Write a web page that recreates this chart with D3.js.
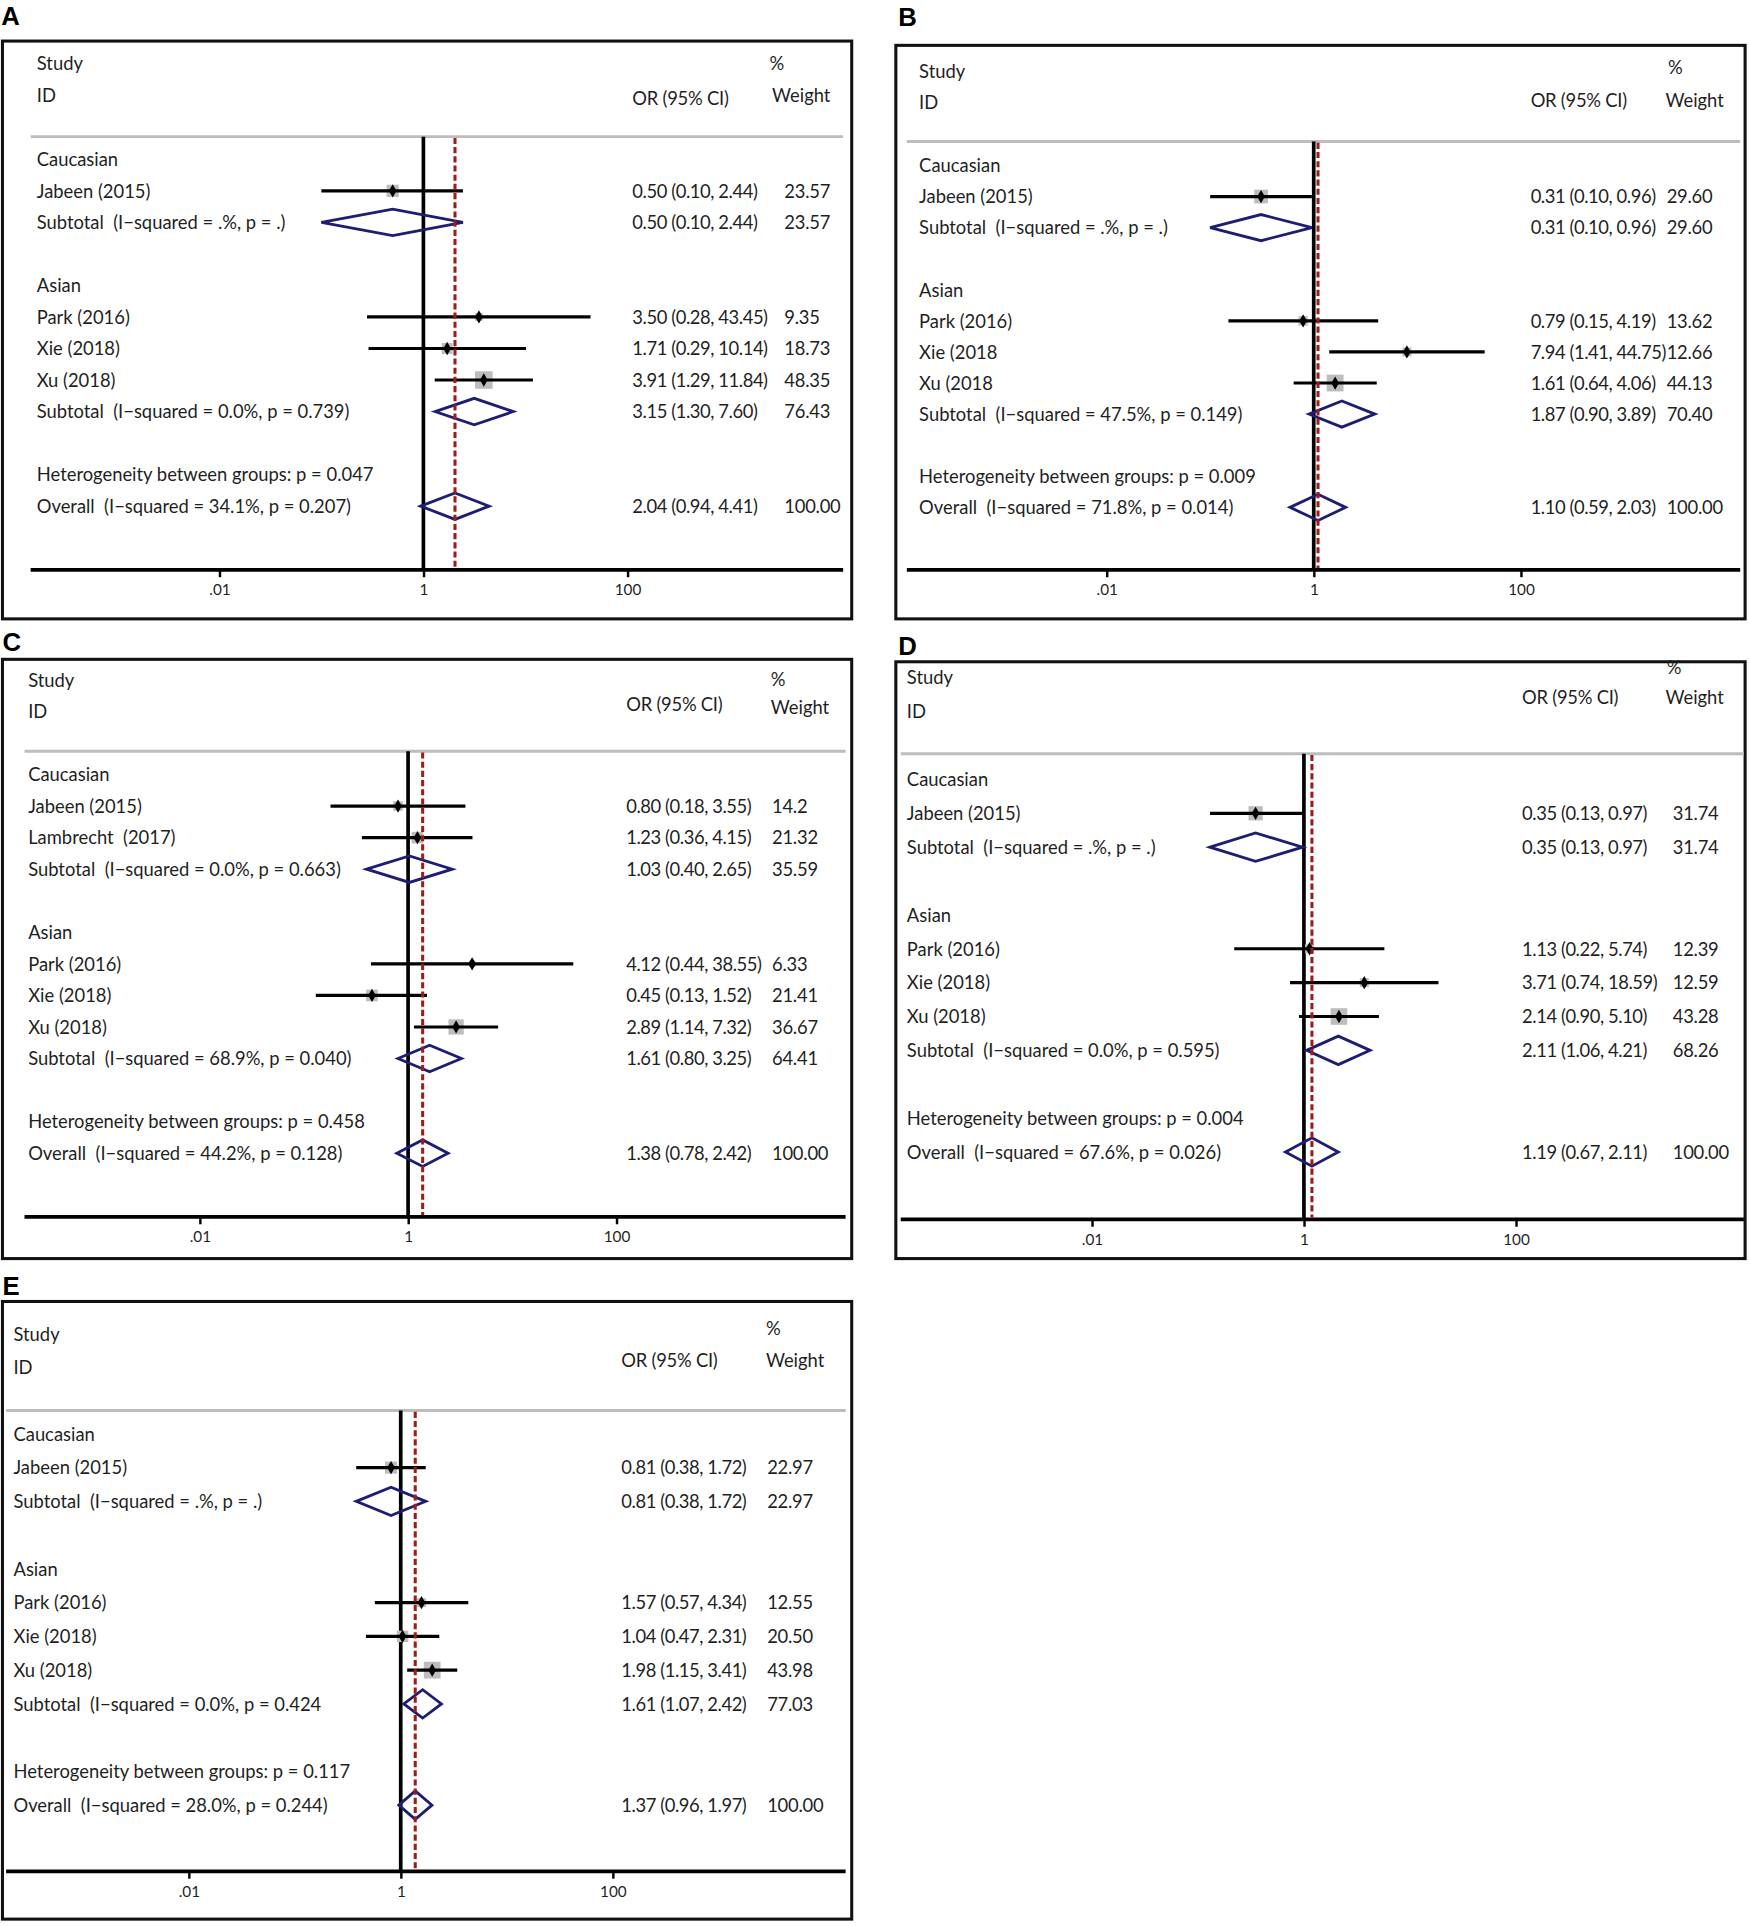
<!DOCTYPE html>
<html>
<head>
<meta charset="utf-8">
<script src="https://cdn.jsdelivr.net/npm/d3@7"></script>
<style>
	body { margin: 0; background: #fff; }
	svg text { font-family: Lato, "Liberation Sans", sans-serif; fill: #1f1f1f; white-space: pre; }
</style>
</head>
<body>
<div id="chart"></div>
<script>

// forest plots, one per panel. Each row is [kind, label, OR, lower, upper, weight]
// kinds: g = group heading, s = study, sub = subtotal, het = heterogeneity, all = overall, "" = spacer

var rowsA = [
	["g", "Caucasian"],
	["s", "Jabeen (2015)", 0.50, 0.10, 2.44, "23.57"],
	["sub", "Subtotal  (I\u2212squared = .%, p = .)", 0.50, 0.10, 2.44, "23.57"],
	[""],
	["g", "Asian"],
	["s", "Park (2016)", 3.50, 0.28, 43.45, "9.35"],
	["s", "Xie (2018)", 1.71, 0.29, 10.14, "18.73"],
	["s", "Xu (2018)", 3.91, 1.29, 11.84, "48.35"],
	["sub", "Subtotal  (I\u2212squared = 0.0%, p = 0.739)", 3.15, 1.30, 7.60, "76.43"],
	[""],
	["het", "Heterogeneity between groups: p = 0.047"],
	["all", "Overall  (I\u2212squared = 34.1%, p = 0.207)", 2.04, 0.94, 4.41, "100.00"]
];

var rowsB = [
	["g", "Caucasian"],
	["s", "Jabeen (2015)", 0.31, 0.10, 0.96, "29.60"],
	["sub", "Subtotal  (I\u2212squared = .%, p = .)", 0.31, 0.10, 0.96, "29.60"],
	[""],
	["g", "Asian"],
	["s", "Park (2016)", 0.79, 0.15, 4.19, "13.62"],
	["s", "Xie (2018", 7.94, 1.41, 44.75, "12.66"],
	["s", "Xu (2018", 1.61, 0.64, 4.06, "44.13"],
	["sub", "Subtotal  (I\u2212squared = 47.5%, p = 0.149)", 1.87, 0.90, 3.89, "70.40"],
	[""],
	["het", "Heterogeneity between groups: p = 0.009"],
	["all", "Overall  (I\u2212squared = 71.8%, p = 0.014)", 1.10, 0.59, 2.03, "100.00"]
];

var rowsC = [
	["g", "Caucasian"],
	["s", "Jabeen (2015)", 0.80, 0.18, 3.55, "14.2"],
	["s", "Lambrecht  (2017)", 1.23, 0.36, 4.15, "21.32"],
	["sub", "Subtotal  (I\u2212squared = 0.0%, p = 0.663)", 1.03, 0.40, 2.65, "35.59"],
	[""],
	["g", "Asian"],
	["s", "Park (2016)", 4.12, 0.44, 38.55, "6.33"],
	["s", "Xie (2018)", 0.45, 0.13, 1.52, "21.41"],
	["s", "Xu (2018)", 2.89, 1.14, 7.32, "36.67"],
	["sub", "Subtotal  (I\u2212squared = 68.9%, p = 0.040)", 1.61, 0.80, 3.25, "64.41"],
	[""],
	["het", "Heterogeneity between groups: p = 0.458"],
	["all", "Overall  (I\u2212squared = 44.2%, p = 0.128)", 1.38, 0.78, 2.42, "100.00"]
];

var rowsD = [
	["g", "Caucasian"],
	["s", "Jabeen (2015)", 0.35, 0.13, 0.97, "31.74"],
	["sub", "Subtotal  (I\u2212squared = .%, p = .)", 0.35, 0.13, 0.97, "31.74"],
	[""],
	["g", "Asian"],
	["s", "Park (2016)", 1.13, 0.22, 5.74, "12.39"],
	["s", "Xie (2018)", 3.71, 0.74, 18.59, "12.59"],
	["s", "Xu (2018)", 2.14, 0.90, 5.10, "43.28"],
	["sub", "Subtotal  (I\u2212squared = 0.0%, p = 0.595)", 2.11, 1.06, 4.21, "68.26"],
	[""],
	["het", "Heterogeneity between groups: p = 0.004"],
	["all", "Overall  (I\u2212squared = 67.6%, p = 0.026)", 1.19, 0.67, 2.11, "100.00"]
];

var rowsE = [
	["g", "Caucasian"],
	["s", "Jabeen (2015)", 0.81, 0.38, 1.72, "22.97"],
	["sub", "Subtotal  (I\u2212squared = .%, p = .)", 0.81, 0.38, 1.72, "22.97"],
	[""],
	["g", "Asian"],
	["s", "Park (2016)", 1.57, 0.57, 4.34, "12.55"],
	["s", "Xie (2018)", 1.04, 0.47, 2.31, "20.50"],
	["s", "Xu (2018)", 1.98, 1.15, 3.41, "43.98"],
	["sub", "Subtotal  (I\u2212squared = 0.0%, p = 0.424", 1.61, 1.07, 2.42, "77.03"],
	[""],
	["het", "Heterogeneity between groups: p = 0.117"],
	["all", "Overall  (I\u2212squared = 28.0%, p = 0.244)", 1.37, 0.96, 1.97, "100.00"]
];

var TICKS = [0.01, 1, 100],
	TICK_LABELS = [".01", "1", "100"];

// everything below is laid out on a 1428 wide copy of the figure, the viewBox scales it up
var VIEW_W = 1428,
	VIEW_H = 1571.6,
	FONT = 15,
	NAVY = "#1d1d73",
	DARK_RED = "#a01c1c",
	BOX_GRAY = "#bdbdbd";

var layouts = {
	A: { box: [2, 33.5, 695, 505], label: [1, 20.5], textX: 30, studyY: 57.5, idY: 83.5, orX: 516, orHeadY: 85.5,
		wX: 640, wHeadX: 630, pctX: 628, pctY: 57, weightY: 83.5, grayY: 111.5, lineX: [25, 688],
		axisY: 465, x01: 179, x100: 512, row0: 130, rowN: 413 },
	B: { box: [731, 37, 1424, 505], label: [733, 21.5], textX: 750, studyY: 63.5, idY: 89, orX: 1249, orHeadY: 87.5,
		wX: 1360, wHeadX: 1359, pctX: 1361, pctY: 60, weightY: 87.5, grayY: 115.5, lineX: [740, 1420],
		axisY: 465, x01: 903, x100: 1241, row0: 135, rowN: 414 },
	C: { box: [2, 538, 695, 1027], label: [2, 531.5], textX: 23, studyY: 560.5, idY: 585.5, orX: 511, orHeadY: 580.5,
		wX: 630, wHeadX: 629, pctX: 629, pctY: 559.5, weightY: 582.5, grayY: 613, lineX: [20, 690],
		axisY: 993, x01: 163, x100: 503, row0: 632, rowN: 941 },
	D: { box: [731, 540, 1424, 1027], label: [733, 534.5], textX: 740, studyY: 558.5, idY: 585.5, orX: 1242, orHeadY: 574.5,
		wX: 1365, wHeadX: 1359, pctX: 1360, pctY: 550, weightY: 574.5, grayY: 615, lineX: [735, 1423],
		axisY: 995, x01: 891, x100: 1237, row0: 636, rowN: 940 },
	E: { box: [2, 1062, 695, 1566], label: [2, 1056.5], textX: 11, studyY: 1094.5, idY: 1121.5, orX: 507, orHeadY: 1115.5,
		wX: 626, wHeadX: 625, pctX: 625, pctY: 1089.5, weightY: 1115.5, grayY: 1151, lineX: [5, 690],
		axisY: 1527, x01: 154, x100: 500, row0: 1170, rowN: 1473 }
};

var svg = d3.select("#chart").append("svg")
	.attr("width", 1750)
	.attr("height", 1926)
	.attr("viewBox", "0 0 " + VIEW_W + " " + VIEW_H);

svg.append("rect").attr("width", VIEW_W).attr("height", VIEW_H).style("fill", "#fff");

var fmt = d3.format(".2f");

function addText(g, x, y, str, size) {
	return g.append("text")
		.attr("x", x)
		.attr("y", y)
		.style("font-size", (size || FONT) + "px")
		.text(str);
}

function drawPanel(id, rows) {
	var L = layouts[id];
	var g = svg.append("g").attr("id", "panel_" + id);

	// panel letter
	addText(g, L.label[0], L.label[1], id, 21)
		.style("font-family", "'Liberation Sans', Arial, sans-serif")
		.style("font-weight", "bold")
		.style("fill", "#000");

	// frame
	g.append("rect")
		.attr("x", L.box[0]).attr("y", L.box[1])
		.attr("width", L.box[2] - L.box[0]).attr("height", L.box[3] - L.box[1])
		.style("fill", "none").style("stroke", "#111").style("stroke-width", 2.5);

	// column headings
	addText(g, L.textX, L.studyY, "Study");
	addText(g, L.textX, L.idY, "ID");
	addText(g, L.orX, L.orHeadY, "OR (95% CI)").style("letter-spacing", "-0.2px");
	addText(g, L.pctX, L.pctY, "%");
	addText(g, L.wHeadX, L.weightY, "Weight");

	g.append("line")
		.attr("x1", L.lineX[0]).attr("x2", L.lineX[1])
		.attr("y1", L.grayY).attr("y2", L.grayY)
		.style("stroke", BOX_GRAY).style("stroke-width", 2.4);

	var x = d3.scaleLog().domain([0.01, 100]).range([L.x01, L.x100]);
	var y = d3.scaleLinear().domain([0, rows.length - 1]).range([L.row0, L.rowN]);
	var step = (L.rowN - L.row0) / (rows.length - 1);

	// line of no effect
	g.append("line")
		.attr("x1", x(1)).attr("x2", x(1))
		.attr("y1", L.grayY).attr("y2", L.axisY)
		.style("stroke", "#000").style("stroke-width", 3);

	// axis, the baseline runs the full width of the frame
	g.append("line")
		.attr("x1", L.lineX[0]).attr("x2", L.lineX[1])
		.attr("y1", L.axisY).attr("y2", L.axisY)
		.style("stroke", "#000").style("stroke-width", 3);

	var axis = g.append("g")
		.attr("transform", "translate(0," + L.axisY + ")")
		.call(d3.axisBottom(x)
			.tickValues(TICKS)
			.tickFormat(function(d, i) { return TICK_LABELS[i]; })
			.tickSize(6)
			.tickPadding(6));
	axis.select(".domain").remove();
	axis.selectAll(".tick line").style("stroke", "#000").style("stroke-width", 2);
	axis.selectAll(".tick text")
		.style("font-family", "Lato, 'Liberation Sans', sans-serif")
		.style("font-size", "12.5px")
		.style("fill", "#1f1f1f");

	var row = g.selectAll(".row")
		.data(rows)
		.enter()
		.append("g")
		.attr("class", "row")
		.attr("transform", function(d, i) { return "translate(0," + y(i) + ")"; });

	// left labels
	row.filter(function(d) { return d.length > 1; })
		.append("text")
		.attr("x", L.textX)
		.attr("y", 5.5)
		.style("font-size", FONT + "px")
		.text(function(d) { return d[1]; });

	var est = row.filter(function(d) { return d.length > 2; });

	// OR (95% CI) and weight columns, the digits sit a little tighter than the labels
	est.append("text")
		.attr("x", L.orX)
		.attr("y", 5.5)
		.style("font-size", FONT + "px")
		.style("letter-spacing", "-0.35px")
		.text(function(d) { return fmt(d[2]) + " (" + fmt(d[3]) + ", " + fmt(d[4]) + ")"; });

	est.append("text")
		.attr("x", L.wX)
		.attr("y", 5.5)
		.style("font-size", FONT + "px")
		.style("letter-spacing", "-0.2px")
		.text(function(d) { return d[5]; });

	// individual studies: weight box, CI whisker and point
	var study = row.filter(function(d) { return d[0] == "s"; });

	study.append("rect")
		.attr("x", function(d) { return x(d[2]) - 1.03 * Math.sqrt(+d[5]); })
		.attr("y", function(d) { return -1.03 * Math.sqrt(+d[5]); })
		.attr("width", function(d) { return 2.06 * Math.sqrt(+d[5]); })
		.attr("height", function(d) { return 2.06 * Math.sqrt(+d[5]); })
		.style("fill", BOX_GRAY);

	study.append("line")
		.attr("x1", function(d) { return x(d[3]); })
		.attr("x2", function(d) { return x(d[4]); })
		.attr("y1", 0).attr("y2", 0)
		.style("stroke", "#000").style("stroke-width", 2.6);

	study.append("path")
		.attr("transform", function(d) { return "translate(" + x(d[2]) + ",0)"; })
		.attr("d", d3.symbol(d3.symbolDiamond).size(34))
		.style("fill", "#000");

	// pooled estimates as diamonds
	var half = 0.42 * step;
	row.filter(function(d) { return d[0] == "sub" || d[0] == "all"; })
		.append("path")
		.attr("d", function(d) {
			return "M" + x(d[3]) + ",0L" + x(d[2]) + "," + (-half) + "L" + x(d[4]) + ",0L" + x(d[2]) + "," + half + "Z";
		})
		.style("fill", "none")
		.style("stroke", NAVY)
		.style("stroke-width", 2.3)
		.style("stroke-linejoin", "miter");

	// overall effect, dashed
	var overall = rows.filter(function(d) { return d[0] == "all"; })[0];
	g.append("line")
		.attr("x1", x(overall[2])).attr("x2", x(overall[2]))
		.attr("y1", L.grayY + 1).attr("y2", L.axisY - 1.5)
		.style("stroke", DARK_RED)
		.style("stroke-width", 2.5)
		.style("stroke-dasharray", "5,2.5");
}

drawPanel("A", rowsA);
drawPanel("B", rowsB);
drawPanel("C", rowsC);
drawPanel("D", rowsD);
drawPanel("E", rowsE);

</script>
</body>
</html>
